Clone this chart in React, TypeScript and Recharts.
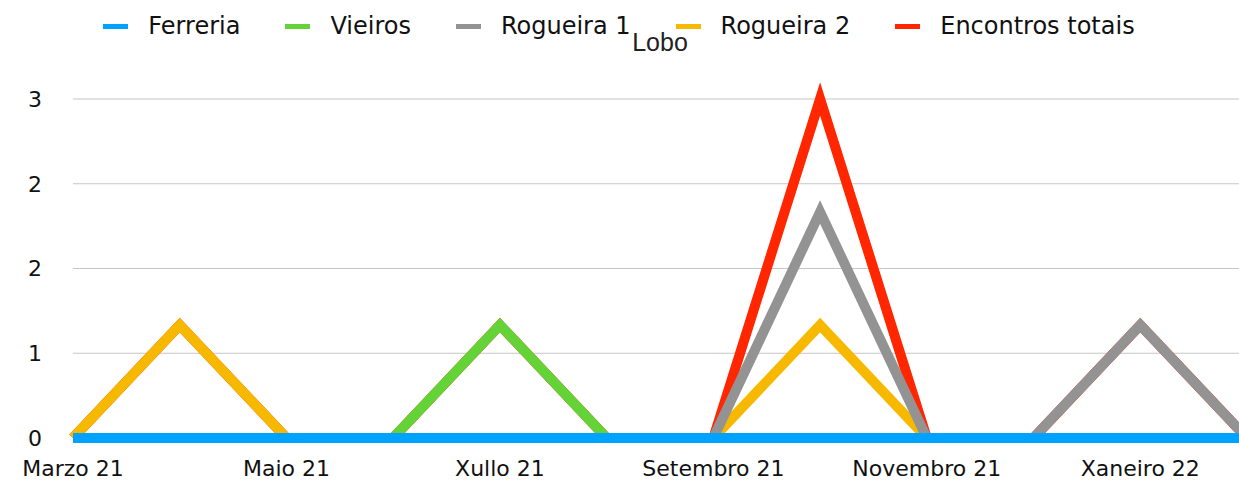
import React from 'react';
import { LineChart, Line, XAxis, YAxis, CartesianGrid } from 'recharts';

const months = [
  'Marzo 21', 'Abril 21', 'Maio 21', 'Xuño 21', 'Xullo 21', 'Agosto 21',
  'Setembro 21', 'Outubro 21', 'Novembro 21', 'Decembro 21', 'Xaneiro 22', 'Febreiro 22',
];
const ferreria = [0, 0, 0, 0, 0, 0, 0, 0, 0, 0, 0, 0];
const vieiros = [0, 0, 0, 0, 1, 0, 0, 0, 0, 0, 0, 0];
const rogueira1 = [0, 0, 0, 0, 0, 0, 0, 2, 0, 0, 1, 0];
const rogueira2 = [0, 1, 0, 0, 0, 0, 0, 1, 0, 0, 0, 0];
const encontrosTotais = [0, 1, 0, 0, 1, 0, 0, 3, 0, 0, 1, 0];
const yTicks = [0, 0.75, 1.5, 2.25, 3];

// legend order
const series = [
  { key: 'ferreria', name: 'Ferreria', color: '#00a2ff' },
  { key: 'vieiros', name: 'Vieiros', color: '#63d337' },
  { key: 'rogueira1', name: 'Rogueira 1', color: '#939393' },
  { key: 'rogueira2', name: 'Rogueira 2', color: '#f7b900' },
  { key: 'encontros', name: 'Encontros totais', color: '#ff2600' },
];

const data = months.map((m, i) => ({
  month: m,
  ferreria: ferreria[i],
  vieiros: vieiros[i],
  rogueira1: rogueira1[i],
  rogueira2: rogueira2[i],
  encontros: encontrosTotais[i],
}));

const FONT = '"DejaVu Sans", sans-serif';

export default function App() {
  // draw order: totals underneath, Ferreria on top
  const drawOrder = [...series].reverse();

  return (
    <div style={{ position: 'absolute', left: 0, top: 0, width: 1239, height: 481, overflow: 'hidden', background: '#fff' }}>
      {/* Legend */}
      <div
        style={{
          position: 'absolute', top: 12, left: 22, width: 1239, display: 'flex',
          justifyContent: 'center', alignItems: 'center', fontFamily: FONT, fontSize: 24, color: '#111',
        }}
      >
        {series.map((s) => (
          <div key={s.key} style={{ display: 'flex', alignItems: 'center', marginRight: 45 }}>
            <span style={{ display: 'inline-block', width: 25, height: 5, background: s.color, marginRight: 20 }} />
            <span>{s.name}</span>
          </div>
        ))}
      </div>

      {/* Title */}
      <div
        style={{
          position: 'absolute', top: 28, left: 560, width: 200, textAlign: 'center',
          fontFamily: '"Liberation Sans", sans-serif', fontSize: 25, color: '#222',
        }}
      >
        Lobo
      </div>

      <LineChart width={1260} height={481} data={data} margin={{ top: 99, right: 13, bottom: 13, left: 0 }}>
        <CartesianGrid vertical={false} stroke="#c6c6c6" strokeWidth={1.2} />
        <XAxis
          dataKey="month"
          interval={1}
          axisLine={false}
          tickLine={false}
          height={30}
          tickMargin={16}
          tick={{ fontSize: 22, fill: '#111', fontFamily: FONT }}
        />
        <YAxis
          domain={[0, 3]}
          ticks={yTicks}
          width={73}
          axisLine={false}
          tickLine={false}
          tickMargin={25}
          tickFormatter={(v: number) => String(Math.round(v))}
          tick={{ fontSize: 22, fill: '#111', fontFamily: FONT }}
        />
        {drawOrder.map((s) => (
          <Line
            key={s.key}
            type="linear"
            dataKey={s.key}
            name={s.name}
            stroke={s.color}
            strokeWidth={10}
            dot={false}
            activeDot={false}
            isAnimationActive={false}
          />
        ))}
      </LineChart>
    </div>
  );
}
